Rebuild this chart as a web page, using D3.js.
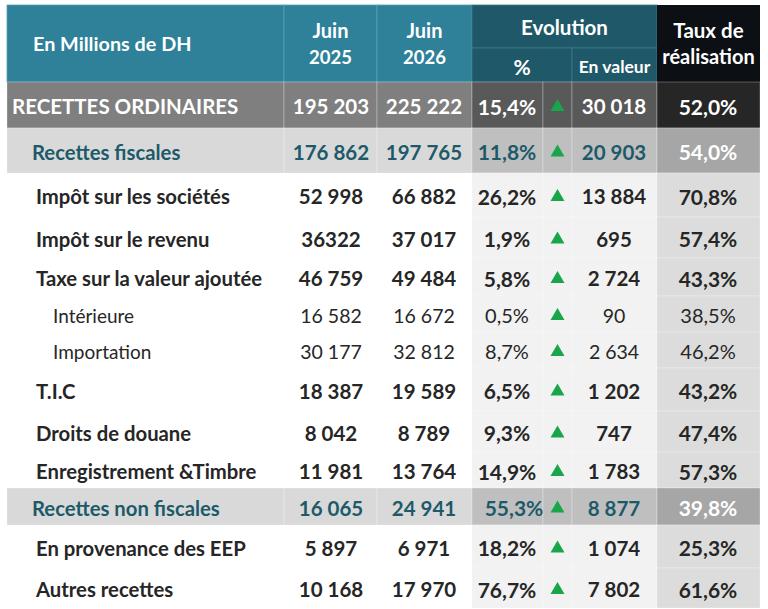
<!DOCTYPE html>
<html>
<head>
<meta charset="utf-8">
<script src="https://cdn.jsdelivr.net/npm/d3@7"></script>
<style>
  body { margin: 0; background: #fff; }
  svg text { font-family: Lato, "Open Sans", sans-serif; }
</style>
</head>
<body>
<div id="chart"></div>
<script>
// table data
const labels = ["RECETTES ORDINAIRES", "Recettes  fiscales", "Impôt sur les sociétés", "Impôt sur le revenu",
  "Taxe sur la valeur ajoutée", "Intérieure", "Importation", "T.I.C", "Droits de douane",
  "Enregistrement &Timbre", "Recettes non fiscales", "En provenance des EEP", "Autres recettes"];
const kinds = ["total", "sub", "item", "item", "item", "detail", "detail", "item", "item", "item", "sub", "item", "item"];
const juin2025 = ["195 203", "176 862", "52 998", "36322", "46 759", "16 582", "30 177", "18 387", "8 042", "11 981", "16 065", "5 897", "10 168"];
const juin2026 = ["225 222", "197 765", "66 882", "37 017", "49 484", "16 672", "32 812", "19 589", "8 789", "13 764", "24 941", "6 971", "17 970"];
const evolPct = ["15,4%", "11,8%", "26,2%", "1,9%", "5,8%", "0,5%", "8,7%", "6,5%", "9,3%", "14,9%", "55,3%", "18,2%", "76,7%"];
const evolVal = ["30 018", "20 903", "13 884", "695", "2 724", "90", "2 634", "1 202", "747", "1 783", "8 877", "1 074", "7 802"];
const taux = ["52,0%", "54,0%", "70,8%", "57,4%", "43,3%", "38,5%", "46,2%", "43,2%", "47,4%", "57,3%", "39,8%", "25,3%", "61,6%"];
const headers = ["En Millions de DH", "Juin|2025", "Juin|2026", "Evolution", "%", "En valeur", "Taux de|réalisation"];

// layout
const W = 768, H = 609;
const colEdges = [7, 284, 377, 472, 543, 572, 657, 760];
const headTop = 5, headMid = 48, headBot = 82;
const rowH = [46, 45, 44, 41, 38, 36, 36, 43, 41, 36, 37, 43, 40];
const labelIndent = { total: 12, sub: 32, item: 36, detail: 53 };

const svg = d3.select("#chart").append("svg").attr("width", W).attr("height", H);

const colX = d3.scaleOrdinal().domain(d3.range(7)).range(colEdges.slice(0, 7));
const colW = i => colEdges[i + 1] - colEdges[i];

const rowY = [];
rowH.reduce((acc, h) => { rowY.push(acc); return acc + h; }, headBot);

// fills per row kind, group: 0 = label/years, 1 = evolution, 2 = taux
const fills = {
  total: ["#7f7f7f", "#595959", "#262626"],
  sub: ["#d9d9d9", "#bfbfbf", "#a6a6a6"],
  item: ["#ffffff", "#f2f2f2", "#dcdcdc"],
  detail: ["#ffffff", "#f2f2f2", "#dcdcdc"]
};
const textColor = { total: "#ffffff", sub: "#1d5a69", item: "#262626", detail: "#262626" };
const tauxColor = { total: "#ffffff", sub: "#ffffff", item: "#262626", detail: "#262626" };
const group = c => c <= 2 ? 0 : (c <= 5 ? 1 : 2);

// header
const teal = "#2e8199", darkTeal = "#1f5868", black = "#0c0f13";
const head = svg.append("g");
[0, 1, 2].forEach(c => {
  head.append("rect").attr("x", colX(c)).attr("y", headTop).attr("width", colW(c)).attr("height", headBot - headTop)
    .attr("fill", teal).attr("stroke", "#5aa1b5").attr("stroke-width", 0.8);
});
head.append("rect").attr("x", colX(3)).attr("y", headTop).attr("width", colEdges[6] - colEdges[3]).attr("height", headMid - headTop)
  .attr("fill", darkTeal).attr("stroke", "#3d7a8a").attr("stroke-width", 0.8);
head.append("rect").attr("x", colX(3)).attr("y", headMid).attr("width", colEdges[5] - colEdges[3]).attr("height", headBot - headMid)
  .attr("fill", darkTeal).attr("stroke", "#3d7a8a").attr("stroke-width", 0.8);
head.append("rect").attr("x", colX(5)).attr("y", headMid).attr("width", colW(5)).attr("height", headBot - headMid)
  .attr("fill", darkTeal).attr("stroke", "#3d7a8a").attr("stroke-width", 0.8);
head.append("rect").attr("x", colX(6)).attr("y", headTop).attr("width", colW(6)).attr("height", headBot - headTop)
  .attr("fill", black);

function headText(txt, x, y, size, anchor) {
  head.append("text").attr("x", x).attr("y", y).attr("text-anchor", anchor || "middle")
    .attr("font-size", size).attr("font-weight", "bold").attr("fill", "#fff").text(txt);
}
headText(headers[0], 33, 51, 19.8, "start");
[1, 2].forEach(c => {
  const parts = headers[c].split("|");
  const cx = colX(c) + colW(c) / 2;
  headText(parts[0], cx, 38, 20);
  headText(parts[1], cx, 64, 18.5);
});
headText(headers[3], (colEdges[3] + colEdges[6]) / 2, 35, 20.5);
headText(headers[4], (colEdges[3] + colEdges[5]) / 2, 75, 21);
headText(headers[5], colX(5) + colW(5) / 2, 73, 17.5);
const tx = headers[6].split("|");
headText(tx[0], colX(6) + colW(6) / 2, 38, 20.5);
headText(tx[1], colX(6) + colW(6) / 2, 64, 20);

// body rows
const body = svg.append("g");
labels.forEach((lab, r) => {
  const k = kinds[r], y = rowY[r], h = rowH[r];
  const g = body.append("g");
  for (let c = 0; c < 7; c++) {
    g.append("rect").attr("x", colX(c)).attr("y", y).attr("width", colW(c)).attr("height", h)
      .attr("fill", fills[k][group(c)])
      .attr("stroke", k === "item" || k === "detail" ? (c >= 3 ? "#ffffff" : "none") : "#ffffff")
      .attr("stroke-opacity", 0.35).attr("stroke-width", 0.8);
  }
  const cy = y + h / 2 + 1;
  const bold = k !== "detail";
  const size = k === "total" ? 20.5 : (k === "detail" ? 19 : 20.3);
  const numSize = k === "detail" ? 19.5 : 20.5;
  const pctSize = k === "detail" ? 20 : 21;
  const txt = (x, s, anchor, color, fsz) => g.append("text")
    .attr("x", x).attr("y", cy).attr("dominant-baseline", "central")
    .attr("text-anchor", anchor).attr("font-size", fsz)
    .attr("font-weight", bold ? "bold" : "normal").attr("fill", color).text(s);

  txt(labelIndent[k], lab, "start", textColor[k], size);
  txt(331, juin2025[r], "middle", textColor[k], numSize);
  txt(424, juin2026[r], "middle", textColor[k], numSize);
  txt(k === "sub" && r === 10 ? 514 : 507, evolPct[r], "middle", textColor[k], pctSize);
  txt(614, evolVal[r], "middle", textColor[k], numSize);
  txt(708, taux[r], "middle", tauxColor[k], pctSize);

  // up arrow
  const ax = colX(4) + colW(4) / 2;
  g.append("path")
    .attr("d", d3.line()([[ax - 7, cy + 5], [ax + 7, cy + 5], [ax, cy - 7]]) + "Z")
    .attr("fill", "#19a64a");
});
</script>
</body>
</html>
